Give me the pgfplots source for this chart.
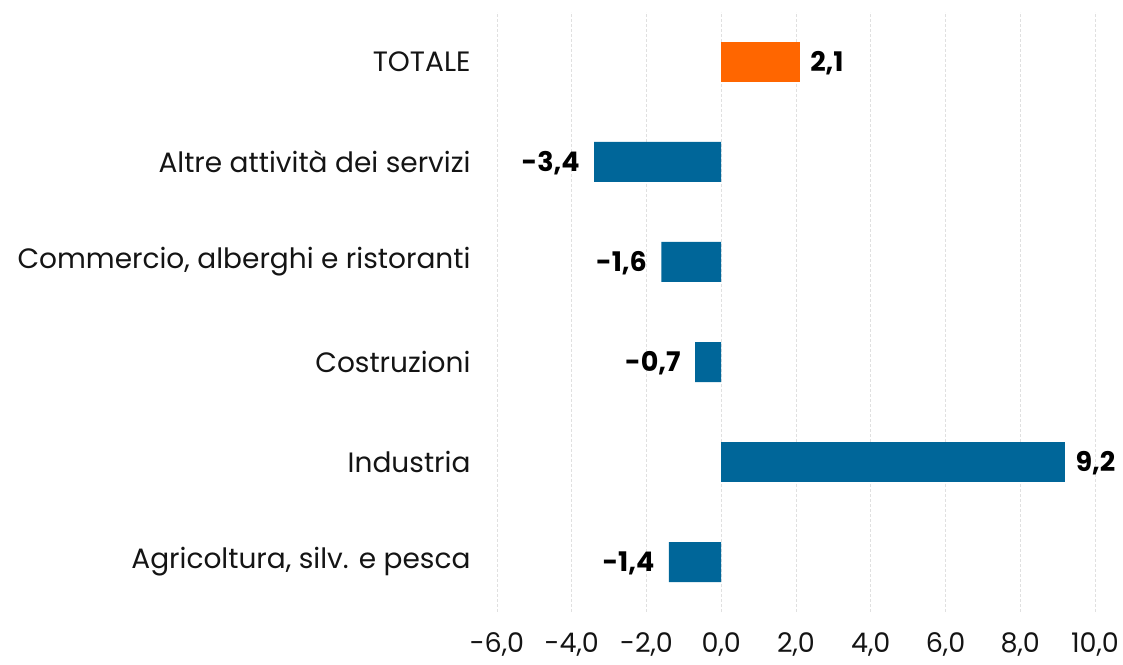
\documentclass[border=0pt]{standalone}
\usepackage{pgfplots}
\pgfplotsset{compat=1.18}
\usepackage{fontspec}
\setmainfont{Poppins}
\definecolor{barblue}{RGB}{0,102,153}
\definecolor{barorange}{RGB}{255,102,0}
\definecolor{txt}{RGB}{20,20,20}
\pgfplotstableread{
x y lab
-1.4 0 -1,4
-0.7 2 -0,7
-1.6 3 -1,6
-3.4 4 -3,4
}\negdata
\pgfplotstableread{
x y lab
9.2 1 9,2
}\posdata
\pgfplotstableread{
x y lab
2.1 5 2,1
}\totdata
\begin{document}
\begin{tikzpicture}
\path[use as bounding box] (-497pt,-52pt) rectangle (626pt,612pt);
\begin{axis}[
  at={(0,0)}, anchor=south west,
  scale only axis, width=598pt, height=600pt,
  xbar, bar width=40pt, bar shift=0pt,
  xmin=-6, xmax=10, ymin=-0.5, ymax=5.5,
  xtick={-6,-4,...,10},
  xticklabels={{-6,0},{-4,0},{-2,0},{0,0},{2,0},{4,0},{6,0},{8,0},{10,0}},
  ytick={0,1,2,3,4,5},
  yticklabels={{Agricoltura, silv. e pesca}, Industria, Costruzioni, {Commercio, alberghi e ristoranti}, Altre attività dei servizi, TOTALE},
  axis line style={draw=none},
  major tick length=0pt,
  xmajorgrids, major x grid style={densely dashed, black!12, line width=0.6pt},
  extra x ticks={0}, extra x tick labels={},
  extra x tick style={grid style={solid, black!18, line width=1.2pt}},
  ticklabel style={font=\fontsize{28}{30}\selectfont, text=txt},
  xticklabel style={font=\fontsize{27}{30}\selectfont, yshift=-17pt},
  yticklabel style={xshift=-23pt},
  nodes near coords,
  point meta=explicit symbolic,
  every node near coord/.append style={font=\bfseries\fontsize{27}{30}\selectfont, text=black, yshift=-1pt},
]
\addplot[fill=barblue, draw=none, every node near coord/.append style={anchor=east, xshift=-11pt}] table[x=x, y=y, meta=lab] {\negdata};
\addplot[fill=barblue, draw=none, every node near coord/.append style={anchor=west, xshift=7pt}] table[x=x, y=y, meta=lab] {\posdata};
\addplot[fill=barorange, draw=none, every node near coord/.append style={anchor=west, xshift=7pt}] table[x=x, y=y, meta=lab] {\totdata};
\end{axis}
\end{tikzpicture}
\end{document}
